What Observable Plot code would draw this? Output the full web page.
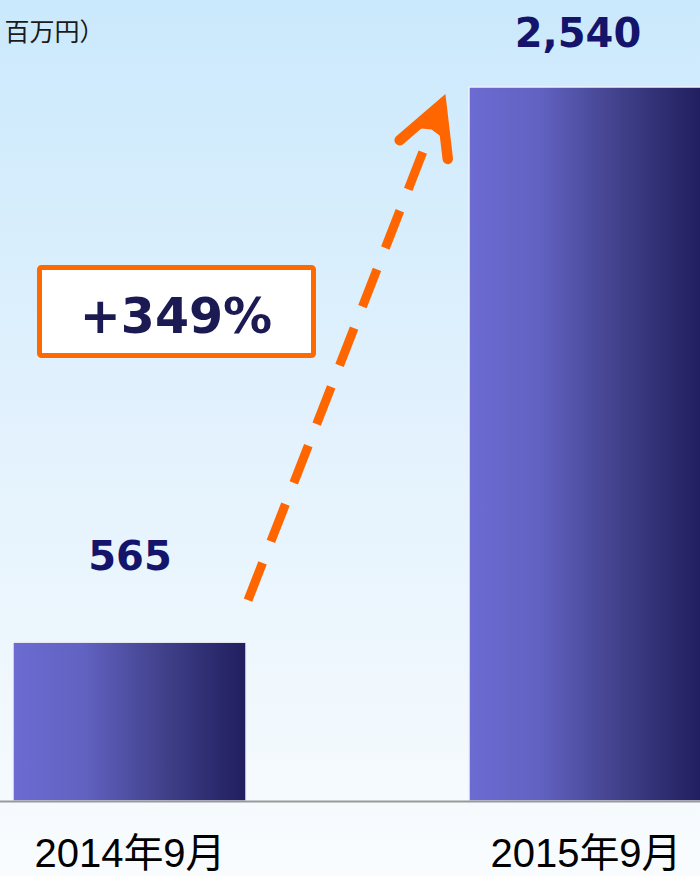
<!DOCTYPE html>
<html>
<head>
<meta charset="utf-8">
<script src="https://cdn.jsdelivr.net/npm/d3@7"></script>
<script src="https://cdn.jsdelivr.net/npm/@observablehq/plot@0.6"></script>
<style>
  html, body { margin: 0; padding: 0; overflow: hidden; background: #f9fcfe; }
  #chart svg { display: block; }
</style>
</head>
<body>
<div id="chart"></div>
<script>
// ---- data ----
const periods = ["2014年9月", "2015年9月"];
const sales = [565, 2540];
const valueLabels = ["565", "2,540"];
const unitLabel = "百万円）";
const growthLabel = "+349%";

const rows = periods.map((p, i) => ({period: p, value: sales[i], label: valueLabels[i]}));

const valueFont = "'DejaVu Sans', Verdana, sans-serif";
const axisFont = "'Liberation Sans', Arial, 'Noto Sans CJK JP', sans-serif";
const cjkFont = "'Noto Sans CJK JP', 'Noto Sans', sans-serif";

function defs() {
  const d = d3.create("svg:defs");
  const g = d.append("linearGradient").attr("id", "barGrad")
    .attr("x1", 0).attr("x2", 1).attr("y1", 0).attr("y2", 0);
  g.append("stop").attr("offset", "0").attr("stop-color", "#6b6bd2");
  g.append("stop").attr("offset", "0.3").attr("stop-color", "#6262c2");
  g.append("stop").attr("offset", "0.65").attr("stop-color", "#40408a");
  g.append("stop").attr("offset", "1").attr("stop-color", "#201e5e");
  return d.node();
}

function annotation(index, scales) {
  const {x, y} = scales;
  const bw = x.bandwidth();
  const x0 = x(periods[0]) + bw + 2, y0 = y(sales[0]) - 42;
  const x1 = x(periods[1]) - 24, y1 = y(sales[1]) + 8;
  const dx = x1 - x0, dy = y1 - y0, L = Math.hypot(dx, dy);
  const ux = dx / L, uy = dy / L;
  const orange = "#ff6600";
  const g = d3.create("svg:g");
  // dashed shaft
  const sl = L - 59;
  g.append("line")
    .attr("x1", x0).attr("y1", y0)
    .attr("x2", x0 + ux * sl).attr("y2", y0 + uy * sl)
    .attr("stroke", orange).attr("stroke-width", 9)
    .attr("stroke-dasharray", "40 23");
  // arrow head
  const a = 28 * Math.PI / 180;
  const bx = -ux, by = -uy;
  const rot = (vx, vy, t) => [vx * Math.cos(t) - vy * Math.sin(t), vx * Math.sin(t) + vy * Math.cos(t)];
  const tx = x1 - ux * 10, ty = y1 - uy * 10;
  const [lx, ly] = rot(bx, by, a), [rx, ry] = rot(bx, by, -a);
  const wl = 55, fl = 36;
  g.append("path")
    .attr("d", `M${tx + lx * fl},${ty + ly * fl}L${tx},${ty}L${tx + rx * fl},${ty + ry * fl}L${tx + bx * 27},${ty + by * 27}Z`)
    .attr("fill", orange);
  g.append("path")
    .attr("d", `M${tx + lx * wl},${ty + ly * wl}L${tx},${ty}L${tx + rx * wl},${ty + ry * wl}`)
    .attr("fill", "none").attr("stroke", orange).attr("stroke-width", 10.5)
    .attr("stroke-linecap", "round").attr("stroke-linejoin", "miter");
  // growth box
  g.append("rect")
    .attr("x", 39.5).attr("y", 267.5).attr("width", 274).attr("height", 88)
    .attr("rx", 2).attr("fill", "white").attr("stroke", "#ff6a00").attr("stroke-width", 5);
  g.append("text")
    .attr("x", 176).attr("y", 333)
    .attr("text-anchor", "middle")
    .attr("font-family", valueFont).attr("font-weight", "bold").attr("font-size", 49)
    .attr("fill", "#1c1a52")
    .text(growthLabel);
  return g.node();
}

const chart = Plot.plot({
  width: 700,
  height: 876,
  marginTop: 0, marginRight: 0, marginBottom: 0, marginLeft: 0,
  style: {
    background: "linear-gradient(to bottom, #cbe9fc 0%, #e3f2fd 50%, #f9fcfe 100%)",
    overflow: "hidden",
    fontFamily: axisFont
  },
  x: {domain: periods, range: [12, 702], paddingInner: 0.49, paddingOuter: 0, axis: null},
  y: {domain: [0, d3.max(sales)], range: [801, 87], axis: null},
  marks: [
    defs,
    Plot.barY(rows, {x: "period", y: "value", fill: "url(#barGrad)", stroke: "#eef1f7", strokeWidth: 1.5}),
    Plot.ruleY([0], {stroke: "#999999", strokeWidth: 2}),
    Plot.text([rows[0]], {x: "period", y: "value", text: "label", dy: -73, lineAnchor: "bottom",
      fontFamily: valueFont, fontWeight: "bold", fontSize: 40, fill: "#14146b"}),
    Plot.text([rows[1]], {x: "period", y: "value", text: "label", dy: -41, dx: -8, lineAnchor: "bottom",
      fontFamily: valueFont, fontWeight: "bold", fontSize: 40, fill: "#14146b"}),
    Plot.text(rows, {x: "period", text: "period", frameAnchor: "bottom", dy: -10, lineAnchor: "bottom",
      fontFamily: axisFont, fontSize: 40, fill: "#000"}),
    Plot.text([unitLabel], {frameAnchor: "top-left", dx: 4, dy: 40, lineAnchor: "bottom", textAnchor: "start",
      fontFamily: cjkFont, fontSize: 25, fill: "#1a1a1a"}),
    annotation
  ]
});

document.getElementById("chart").append(chart);
</script>
</body>
</html>
